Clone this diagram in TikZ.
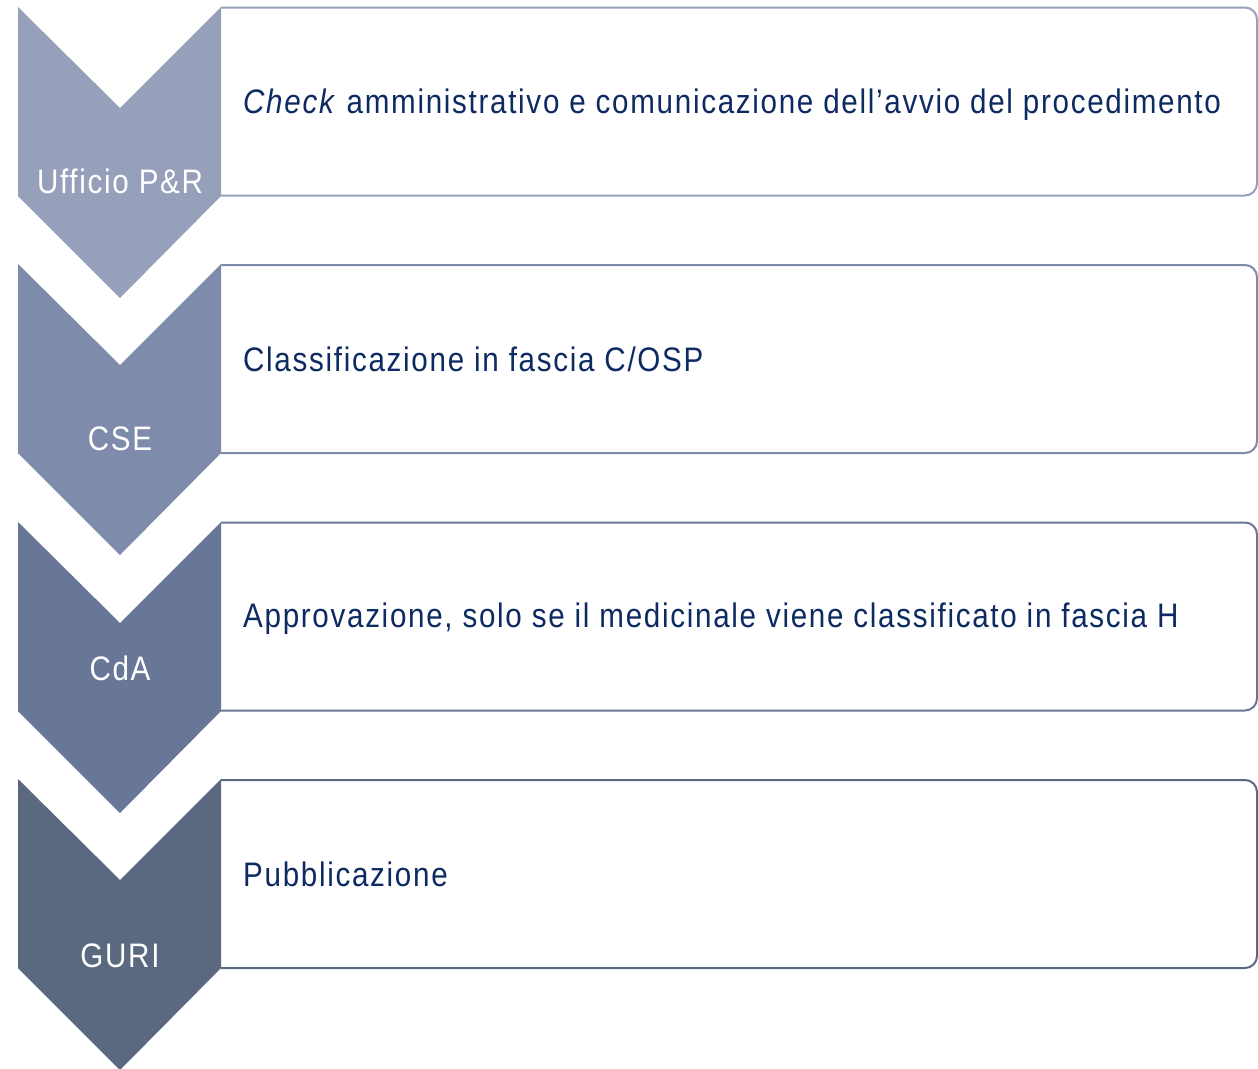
\documentclass[tikz,border=0pt]{standalone}
\usepackage{fontspec}
\setmainfont{Liberation Sans}[FakeStretch=0.87,LetterSpace=5]
\definecolor{txtcol}{HTML}{0E2A62}
\definecolor{cA}{HTML}{96A0BB}
\definecolor{cB}{HTML}{7F8BAA}
\definecolor{cC}{HTML}{687798}
\definecolor{cD}{HTML}{5A6880}
\tikzset{
  steptext/.style={anchor=base west,inner sep=0pt,text=txtcol,font=\fontsize{34}{40}\selectfont},
  chevlabel/.style={anchor=base,inner sep=0pt,text=white,font=\fontsize{34}{40}\selectfont},
  boxline/.style={line width=2pt,rounded corners=12pt},
}
\newcommand{\stepbox}[2]{%
  \draw[boxline,#2] (221,#1) -- (1257,#1) -- (1257,#1+188) -- (221,#1+188);
}
\newcommand{\chevron}[2]{%
  \fill[#2] (18,#1) -- (120,#1+101) -- (221,#1) -- (221,#1+189) -- (120,#1+291) -- (18,#1+189) -- cycle;
}
\begin{document}
\begin{tikzpicture}[x=1pt,y=-1pt]
\useasboundingbox (0,0) rectangle (1258,1068);
\fill[white] (0,0) rectangle (1258,1068);
\stepbox{7.5}{cA}
\stepbox{265}{cB}
\stepbox{522.5}{cC}
\stepbox{780}{cD}
\chevron{7}{cA}
\chevron{264}{cB}
\chevron{522}{cC}
\chevron{779}{cD}
\node[chevlabel] (l1) at (120,193) {Ufficio P\&R};
\node[chevlabel] (l2) at (120,450) {CSE};
\node[chevlabel] (l3) at (120,680) {CdA};
\node[chevlabel] (l4) at (120,967) {GURI};
\node[steptext] (t1) at (243,113) {\textit{Check} amministrativo e comunicazione dell’avvio del procedimento};
\node[steptext] (t2) at (243,371) {Classificazione in fascia C/OSP};
\node[steptext] (t3) at (243,627) {Approvazione, solo se il medicinale viene classificato in fascia H};
\node[steptext] (t4) at (243,886) {Pubblicazione};
\end{tikzpicture}
\end{document}
